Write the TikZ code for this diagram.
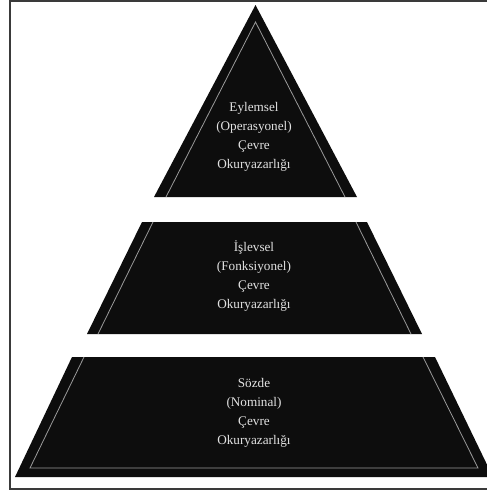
\documentclass[tikz,border=0pt]{standalone}
\usepackage{fontspec}
\setmainfont{Liberation Serif}
\definecolor{layerblack}{HTML}{0D0D0D}
\definecolor{bevelgray}{HTML}{9A9A9A}
\definecolor{labelgray}{HTML}{E2E2E2}
\definecolor{framegray}{HTML}{3A3A3A}
\begin{document}
\begin{tikzpicture}[x=1pt, y=-1pt,
  layer/.style={fill=layerblack},
  bevel/.style={draw=bevelgray, line width=0.8pt},
  levellabel/.style={text=labelgray, align=center,
    font=\fontsize{13.2}{19.2}\selectfont}]
  \useasboundingbox (0,0) rectangle (487,493);
  \clip (0,0) rectangle (487,493);
  \fill[white] (0,0) rectangle (487,493);
  \draw[framegray, line width=2pt] (9.5,1) rectangle (495,489);
  \fill[layer] (255.5,5) -- (357,197) -- (154,197) -- cycle;
  \draw[bevel] (166,197) -- (255.5,22) -- (345,197);
  \fill[layer] (142,222) -- (367,222) -- (422,334) -- (87,334) -- cycle;
  \draw[bevel] (98,334) -- (153,222);
  \draw[bevel] (356,222) -- (411,334);
  \fill[layer] (72,357) -- (435,357) -- (493,477) -- (15,477) -- cycle;
  \draw[bevel] (84,357) -- (30,468) -- (478,468) -- (423,357);
  \node[levellabel] (eylemsel) at (254,137) {Eylemsel\\(Operasyonel)\\Çevre\\Okuryazarlığı};
  \node[levellabel] (islevsel) at (254,276) {İşlevsel\\(Fonksiyonel)\\Çevre\\Okuryazarlığı};
  \node[levellabel] (sozde) at (254,413) {Sözde\\(Nominal)\\Çevre\\Okuryazarlığı};
\end{tikzpicture}
\end{document}
